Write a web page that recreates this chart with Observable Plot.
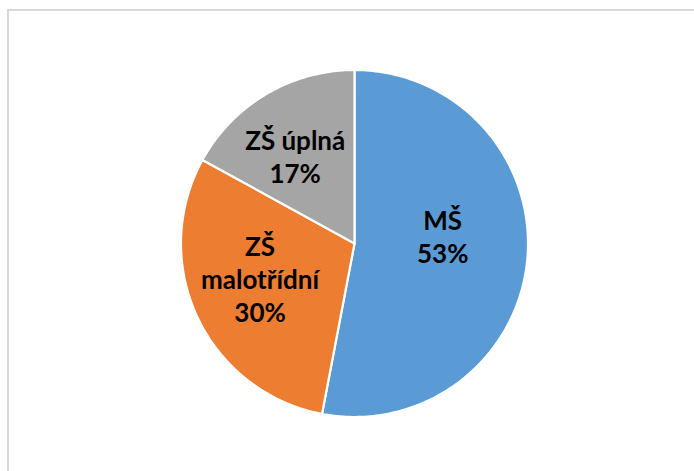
<!DOCTYPE html>
<html>
<head>
<meta charset="utf-8">
<script src="https://cdn.jsdelivr.net/npm/d3@7"></script>
<script src="https://cdn.jsdelivr.net/npm/@observablehq/plot@0.6"></script>
<style>
  body { margin: 0; background: #fff; overflow: hidden; }
  #wrap { position: relative; width: 694px; height: 471px; overflow: hidden; background: #fff; }
  #border { position: absolute; left: 7px; top: 9px; width: 760px; height: 520px; border: 2px solid #d9d9d9; box-sizing: border-box; }
  #chart { position: absolute; left: 0; top: 0; }
</style>
</head>
<body>
<div id="wrap"><div id="border"></div><div id="chart"></div></div>
<script>
// Data
const categories = ["MŠ", "ZŠ malotřídní", "ZŠ úplná"];
const labelTexts = ["MŠ", "ZŠ\nmalotřídní", "ZŠ úplná"];
const values = [53, 30, 17];
const colors = ["#5b9bd5", "#ed7d31", "#a5a5a5"];

// Layout (label placement inside slices)
const labelRadius = [0.51, 0.58, 0.61];
const labelAngleShift = [-10, 5, -3.5]; // degrees

const total = d3.sum(values);
let acc = 0;
const slices = values.map((v, i) => {
  const a0 = (acc / total) * 2 * Math.PI;
  acc += v;
  const a1 = (acc / total) * 2 * Math.PI;
  return {name: categories[i], value: v, a0, a1, i};
});

// polygon outlines for slices
const outline = [];
for (const s of slices) {
  outline.push({name: s.name, x: 0, y: 0});
  const n = Math.max(2, Math.ceil((s.a1 - s.a0) * 180 / Math.PI));
  for (let k = 0; k <= n; k++) {
    const t = s.a0 + (s.a1 - s.a0) * k / n;
    outline.push({name: s.name, x: Math.sin(t), y: Math.cos(t)});
  }
}

const labels = slices.map((s) => {
  const mid = (s.a0 + s.a1) / 2 + labelAngleShift[s.i] * Math.PI / 180;
  const r = labelRadius[s.i];
  return {
    name: s.name,
    x: r * Math.sin(mid),
    y: r * Math.cos(mid),
    text: labelTexts[s.i] + "\n" + Math.round(s.value / total * 100) + "%"
  };
});

const plot = Plot.plot({
  width: 694,
  height: 471,
  marginLeft: 180.5,
  marginRight: 166.5,
  marginTop: 69.5,
  marginBottom: 54.5,
  x: {domain: [-1, 1], axis: null},
  y: {domain: [-1, 1], axis: null},
  color: {domain: categories, range: colors},
  style: {background: "transparent"},
  marks: [
    Plot.line(outline, {
      x: "x", y: "y", z: "name", fill: "name",
      stroke: "white", strokeWidth: 2.2, curve: "linear-closed", strokeLinejoin: "round"
    }),
    Plot.text(labels, {
      x: "x", y: "y", text: "text",
      fill: "black", fontSize: 26, fontWeight: "bold",
      fontFamily: "Lato", lineHeight: 1.27
    })
  ]
});
document.getElementById("chart").appendChild(plot);
</script>
</body>
</html>
